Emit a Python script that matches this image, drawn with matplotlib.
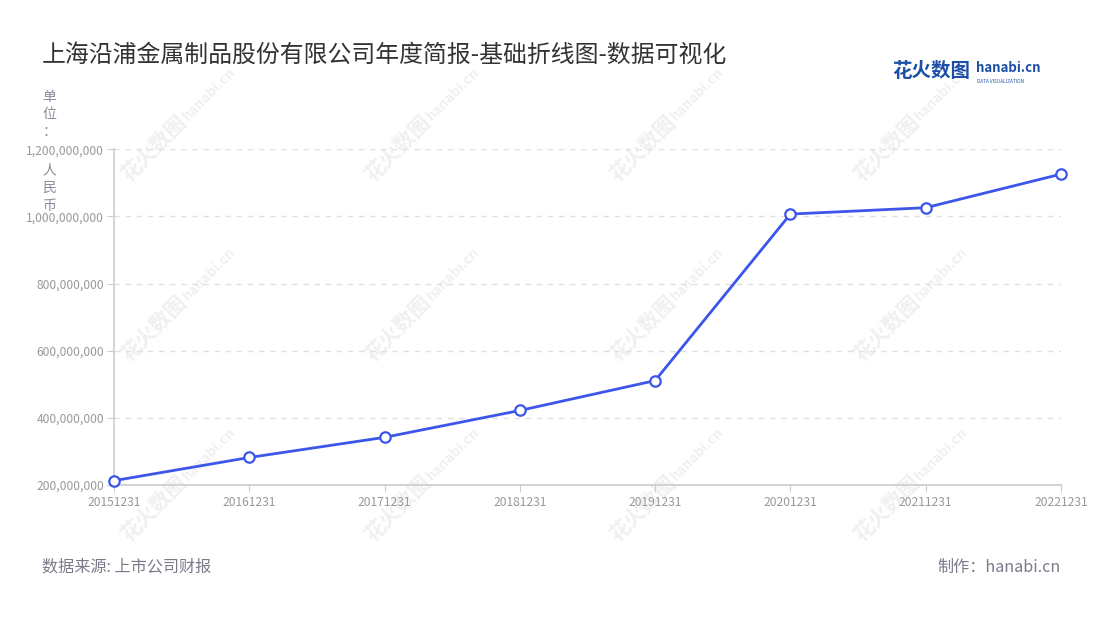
import matplotlib
matplotlib.use("Agg")
import matplotlib.pyplot as plt
from matplotlib.ticker import FuncFormatter

plt.rcParams['font.family'] = ['Noto Sans CJK SC', 'DejaVu Sans']

# data
dates = ['20151231', '20161231', '20171231', '20181231',
         '20191231', '20201231', '20211231', '20221231']
values = [213e6, 282e6, 342e6, 422e6, 511e6, 1007e6, 1026e6, 1126e6]
yticks = [200e6, 400e6, 600e6, 800e6, 1000e6, 1200e6]

title = '上海沿浦金属制品股份有限公司年度简报-基础折线图-数据可视化'
source = '数据来源: 上市公司财报'
maker = '制作：hanabi.cn'
unit = '单位：人民币'

fig = plt.figure(figsize=(11, 6.2), dpi=100)
ax = fig.add_axes([0.1036, 0.2177, 0.8609, 0.5415])

# faint watermarks behind the chart
for wx in [0.14, 0.362, 0.584, 0.806]:
    for wy in [0.76, 0.47, 0.18]:
        fig.text(wx, wy, '花火数图', fontsize=15, color='#f0f0f0', rotation=45,
                 ha='center', va='center', fontweight='bold', zorder=-1)
        fig.text(wx + 0.05, wy + 0.088, 'hanabi.cn', fontsize=10, color='#f0f0f0',
                 rotation=45, ha='center', va='center', fontweight='bold', zorder=-1)

x = list(range(len(dates)))
ax.plot(x, values, color='#3b56e8', lw=2.0, marker='o', markersize=7.5,
        markerfacecolor='white', markeredgecolor='#3b56e8', markeredgewidth=1.6,
        zorder=3, clip_on=False)

ax.set_xlim(0, len(dates) - 1)
ax.set_ylim(200e6, 1200e6)
ax.set_xticks(x)
ax.set_xticklabels(dates)
ax.set_yticks(yticks)
ax.yaxis.set_major_formatter(FuncFormatter(lambda v, p: f'{int(v):,}'))

ax.patch.set_alpha(0)
ax.grid(axis='y', color='#e0e0e0', linestyle=(0, (4, 4)), linewidth=1)
ax.set_axisbelow(True)
for s in ['top', 'right']:
    ax.spines[s].set_visible(False)
for s in ['left', 'bottom']:
    ax.spines[s].set_color('#cccccc')
    ax.spines[s].set_linewidth(1.2)
ax.tick_params(axis='y', length=5, color='#cccccc', labelsize=8.7,
               labelcolor='#999999', pad=2)
ax.tick_params(axis='x', length=5, color='#cccccc', labelsize=8.7,
               labelcolor='#999999', pad=3)

fig.text(0.038, 0.911, title, fontsize=17.2, color='#333333', ha='left', va='center')

# unit label: stacked characters, with a gap where the top tick label sits
unit_y = [97, 114, 132, 170, 188, 206]
for ch, py in zip(unit, unit_y):
    fig.text(0.045, 1 - py / 620, ch, fontsize=10, color='#8a8a9a',
             ha='center', va='center')

fig.text(0.038, 0.085, source, fontsize=11.6, color='#7a7a8a', ha='left', va='center')
fig.text(0.9645, 0.085, maker, fontsize=11.6, color='#7a7a8a', ha='right', va='center')

# logo
fig.text(0.811, 0.884, '花火数图', fontsize=14, color='#1d4fa8', fontweight='bold',
         ha='left', va='center')
fig.text(0.887, 0.890, 'hanabi.cn', fontsize=9.5, color='#1d4fa8', fontweight='bold',
         ha='left', va='center')
fig.text(0.888, 0.868, 'DATA VISUALIZATION', fontsize=3.4, color='#1d4fa8',
         ha='left', va='center')

fig.savefig('out.png', dpi=100)
